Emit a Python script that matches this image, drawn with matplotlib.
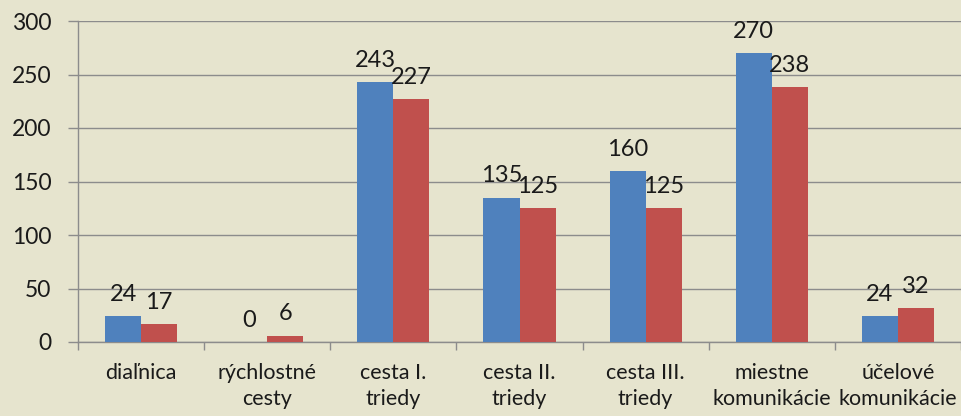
import numpy as np
import matplotlib.pyplot as plt

categories = ["diaľnica", "rýchlostné\ncesty", "cesta I.\ntriedy", "cesta II.\ntriedy",
              "cesta III.\ntriedy", "miestne\nkomunikácie", "účelové\nkomunikácie"]
series_a = [24, 0, 243, 135, 160, 270, 24]
series_b = [17, 6, 227, 125, 125, 238, 32]

plt.rcParams['font.family'] = ['Lato', 'DejaVu Sans']

bg = '#e6e4ce'
fig = plt.figure(figsize=(9.61, 4.16), dpi=100, facecolor=bg)
ax = fig.add_axes([78 / 961, 1 - 342 / 416, 883 / 961, 321 / 416], facecolor=bg)

x = np.arange(len(categories))
w = 36 / 126
ba = ax.bar(x - w / 2, series_a, w, color='#4f81bd', zorder=3)
bb = ax.bar(x + w / 2, series_b, w, color='#c0504d', zorder=3)

for bars, vals in ((ba, series_a), (bb, series_b)):
    for r, v in zip(bars, vals):
        ax.annotate(str(v), (r.get_x() + r.get_width() / 2, v), xytext=(0, 8),
                    textcoords='offset points', ha='center', va='bottom',
                    fontsize=17, color='#1a1a1a', zorder=4)

ax.set_xlim(-0.5, len(categories) - 0.5)
ax.set_ylim(0, 300)
ax.set_yticks(range(0, 301, 50))
ax.yaxis.grid(True, color='#8c8c8c', linewidth=1, zorder=0)
ax.set_axisbelow(True)

ax.set_xticks(x)
ax.set_xticklabels(categories, fontsize=15.5, color='#1a1a1a', linespacing=1.4)
ax.tick_params(axis='x', length=0, pad=15)
ax.set_xticks(np.arange(-0.5, len(categories), 1), minor=True)
ax.tick_params(axis='x', which='minor', length=6, color='#8c8c8c', width=1)
ax.tick_params(axis='y', length=7, color='#8c8c8c', width=1, labelsize=16.5,
               labelcolor='#1a1a1a', pad=12)

for s in ('top', 'right'):
    ax.spines[s].set_visible(False)
for s in ('left', 'bottom'):
    ax.spines[s].set_color('#8c8c8c')
    ax.spines[s].set_linewidth(1)

fig.savefig('out.png', dpi=100, facecolor=bg)
